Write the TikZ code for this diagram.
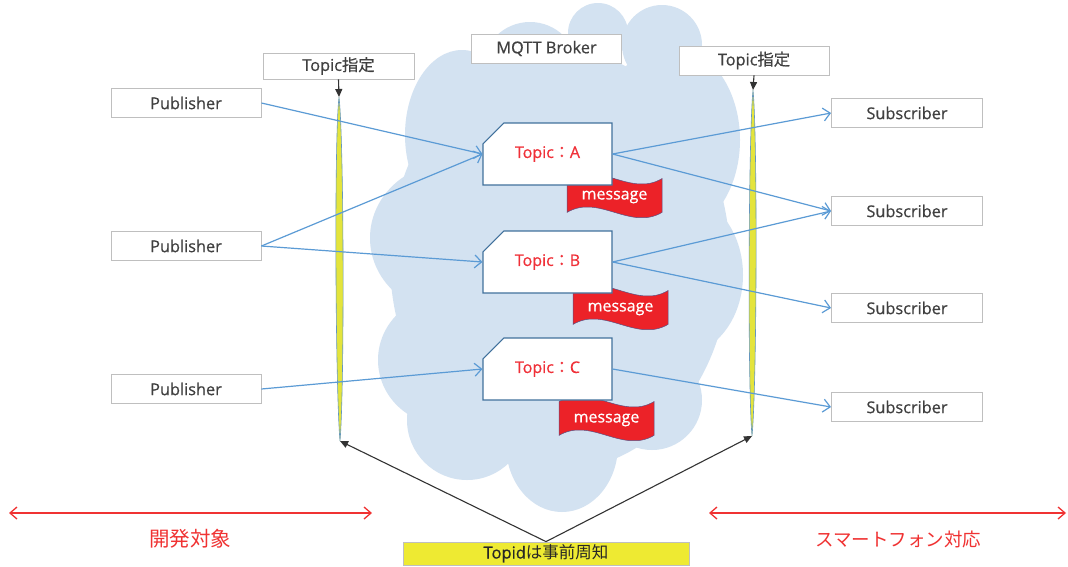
\documentclass[tikz,border=0pt]{standalone}
\usepackage{fontspec}
\setmainfont{Open Sans}
\newfontfamily\jp{Noto Sans CJK JP}
\newfontfamily\boxfont{Open Sans}[FakeBold=0.6]
\newfontfamily\jpb{Noto Sans CJK JP}[FakeBold=0.6]
\usetikzlibrary{arrows.meta,shapes.misc,calc}
\definecolor{cloudc}{RGB}{211,226,241}
\definecolor{greyline}{RGB}{191,191,191}
\definecolor{textgrey}{RGB}{64,64,64}
\definecolor{topicline}{RGB}{65,113,156}
\definecolor{topicred}{RGB}{240,48,56}
\definecolor{flagred}{RGB}{236,34,40}
\definecolor{flagline}{RGB}{90,80,130}
\definecolor{arrowblue}{RGB}{91,155,213}
\definecolor{lensyellow}{RGB}{228,228,60}
\definecolor{lensline}{RGB}{100,150,190}
\definecolor{noteyellow}{RGB}{238,234,50}
\definecolor{labelred}{RGB}{240,50,50}
\begin{document}
\begin{tikzpicture}[x=1pt,y=-1pt,
  gbox/.style={draw=greyline,fill=white,line width=0.9pt,minimum width=150pt,minimum height=29pt,inner sep=0pt,text=textgrey,font=\boxfont\fontsize{16.3}{19}\selectfont},
  topic/.style={chamfered rectangle,chamfered rectangle corners=north west,chamfered rectangle xsep=24pt,chamfered rectangle ysep=13pt,draw=topicline,fill=white,line width=1.1pt,minimum width=129pt,minimum height=62pt,inner sep=0pt,text=topicred,font=\boxfont\fontsize{16}{19}\selectfont},
  flagsty/.style={fill=flagred,draw=flagline,line width=0.5pt},
  msgtext/.style={text=white,inner sep=0pt,font=\boxfont\fontsize{16}{19}\selectfont},
  bluearrow/.style={draw=arrowblue,line width=1.2pt,-{Straight Barb[length=7pt,width=13pt]}},
  blackarrow/.style={draw=black!80,line width=1.1pt,-{Triangle[length=8pt,width=7pt]}},
  redarrow/.style={draw=labelred,line width=1.3pt,{Straight Barb[length=7pt,width=12pt]}-{Straight Barb[length=7pt,width=12pt]}},
  lens/.style={fill=lensyellow,draw=lensline,line width=0.6pt},
  redlabel/.style={text=labelred,inner sep=0pt,font=\jp\fontsize{20.5}{24}\selectfont},
  msgflag/.pic={
    \filldraw[flagsty] (0,5.6) .. controls (31.7,-13.1) and (63.3,24.4) .. (95,5.6) -- (95,39.4) .. controls (63.3,58.1) and (31.7,20.6) .. (0,39.4) -- cycle;
    \node[msgtext] (-txt) at (47.5,24) {message};
  }]
\useasboundingbox (0,0) rectangle (1068,566);
\fill[white] (0,0) rectangle (1068,566);
% cloud
\begin{scope}
\fill[cloudc] (560,260) ellipse [x radius=170pt, y radius=210pt];
\fill[cloudc] (462,135) ellipse [x radius=57pt, y radius=85pt];
\fill[cloudc] (450,238) ellipse [x radius=80pt, y radius=75pt];
\fill[cloudc] (445,360) ellipse [x radius=67pt, y radius=65pt];
\fill[cloudc] (467,420) circle [radius=60pt];
\fill[cloudc] (562,445) ellipse [x radius=56pt, y radius=67pt];
\fill[cloudc] (652,400) circle [radius=50pt];
\fill[cloudc] (680,275) ellipse [x radius=63pt, y radius=80pt];
\fill[cloudc] (670,140) ellipse [x radius=70pt, y radius=95pt];
\fill[cloudc] (598,33) circle [radius=30pt];
\fill[cloudc] (662,45) circle [radius=40pt];
\fill[cloudc] (530,70) circle [radius=48pt];
\end{scope}
% message flags
\pic (fA) at (567,173) {msgflag};
\pic (fB) at (573,285) {msgflag};
\pic (fC) at (559,396) {msgflag};
% topics
\node[topic] (tA) at (547.5,154) {\raisebox{-4pt}{Topic{\jpb ：}A}};
\node[topic] (tB) at (547.5,262) {\raisebox{-4pt}{Topic{\jpb ：}B}};
\node[topic] (tC) at (547.5,369) {\raisebox{-4pt}{Topic{\jpb ：}C}};
% boxes
\node[gbox] (broker) at (546.5,48.5) {MQTT Broker};
\node[gbox,minimum width=151pt,minimum height=26pt] (specL) at (338.5,66) {Topic{\jpb 指定}};
\node[gbox] (specR) at (754,60.5) {Topic{\jpb 指定}};
\node[gbox] (pub1) at (186,103) {Publisher};
\node[gbox] (pub2) at (186,246) {Publisher};
\node[gbox] (pub3) at (186,389) {Publisher};
\node[gbox,minimum width=151pt] (sub1) at (907,113) {Subscriber};
\node[gbox,minimum width=151pt] (sub2) at (907,211) {Subscriber};
\node[gbox,minimum width=151pt] (sub3) at (907,308) {Subscriber};
\node[gbox,minimum width=151pt] (sub4) at (907,407) {Subscriber};
\node[draw=greyline,fill=noteyellow,line width=0.8pt,minimum width=286pt,minimum height=23pt,inner sep=0pt,text=black!85,font=\boxfont\fontsize{16.5}{19}\selectfont] (note) at (546,553.5) {Topid{\jp は事前周知}};
% lenses
\coordinate (lLt) at (339,97);
\coordinate (lLb) at (340,441);
\coordinate (lRt) at (753,90);
\coordinate (lRb) at (752,436);
\path[lens] (lLt) .. controls (344,140) and (344.5,390) .. (lLb) .. controls (335.5,390) and (334,140) .. (lLt) -- cycle;
\path[lens] (lRt) .. controls (757.5,135) and (757,385) .. (lRb) .. controls (747.5,385) and (748.5,135) .. (lRt) -- cycle;
% blue arrows
\draw[bluearrow] (pub1.east) -- (tA.west);
\draw[bluearrow] (pub2.east) -- (tA.west);
\draw[bluearrow] (pub2.east) -- (tB.west);
\draw[bluearrow] (pub3.east) -- (tC.west);
\draw[bluearrow] (tA.east) -- (sub1.west);
\draw[bluearrow] (tA.east) -- (sub2.west);
\draw[bluearrow] (tB.east) -- (sub2.west);
\draw[bluearrow] (tB.east) -- (sub3.west);
\draw[bluearrow] (tC.east) -- (sub4.west);
% black arrows
\draw[blackarrow] (specL.south) -- (lLt);
\draw[blackarrow] (specR.south) -- (lRt);
\draw[blackarrow] (note.north) -- (lLb);
\draw[blackarrow] (note.north) -- (lRb);
% red ranges
\coordinate (dLa) at (9,513);
\coordinate (dLb) at (372,513);
\coordinate (dRa) at (709,513);
\coordinate (dRb) at (1066,513);
\draw[redarrow] (dLa) -- (dLb);
\draw[redarrow] (dRa) -- (dRb);
\node[redlabel] (devlbl) at (190,539) {開発対象};
\node[redlabel,font=\jp\fontsize{18.5}{22}\selectfont] (smlbl) at (898,539) {スマートフォン対応};
\end{tikzpicture}
\end{document}
